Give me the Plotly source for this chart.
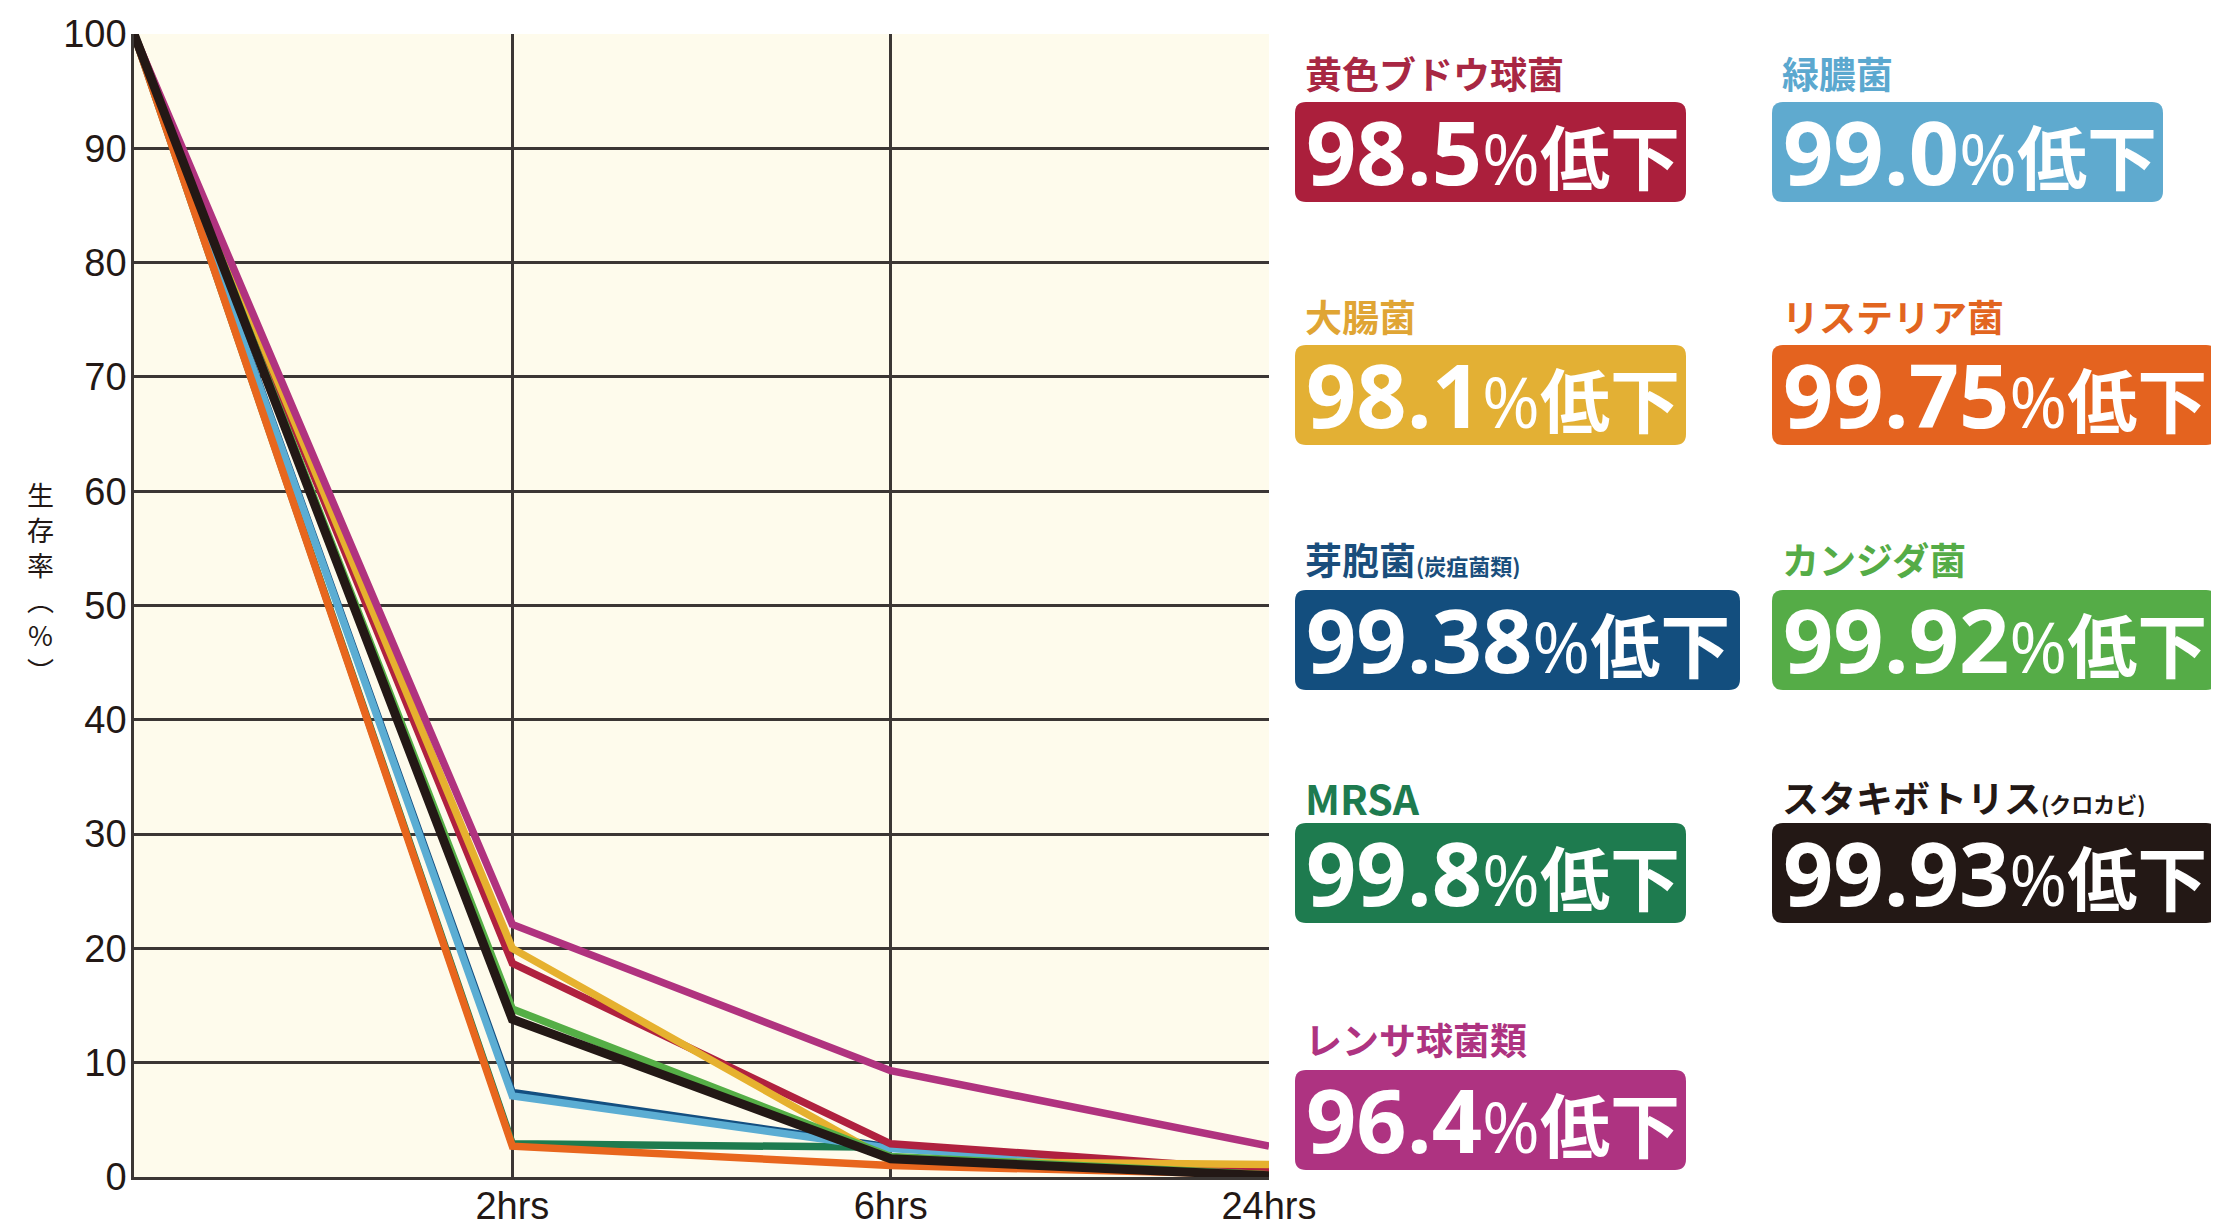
import plotly.graph_objects as go

# ---------------- data ----------------
x_labels = ["", "2hrs", "6hrs", "24hrs"]
y_ticks = [0, 10, 20, 30, 40, 50, 60, 70, 80, 90, 100]
y_title = "生存率（%）"

series_names = ["黄色ブドウ球菌", "緑膿菌", "大腸菌", "リステリア菌", "芽胞菌",
                "カンジダ菌", "MRSA", "スタキボトリス", "レンサ球菌類"]
series_notes = ["", "", "", "", "(炭疽菌類)", "", "", "(クロカビ)", ""]
reductions = ["98.5", "99.0", "98.1", "99.75", "99.38", "99.92", "99.8", "99.93", "96.4"]

staph = [100, 18.7, 2.9, 0.6]
pseudomonas = [100, 7.1, 2.5, 0.5]
ecoli = [100, 20.0, 1.4, 1.1]
listeria = [100, 2.7, 1.0, 0.2]
bacillus = [100, 7.4, 2.6, 0.4]
candida = [100, 14.7, 1.8, 0.2]
mrsa = [100, 2.9, 2.6, 0.1]
stachybotrys = [100, 13.8, 1.6, 0.1]
strepto = [100, 22.1, 9.3, 2.7]

series_values = [staph, pseudomonas, ecoli, listeria, bacillus,
                 candida, mrsa, stachybotrys, strepto]

# ---------------- style ----------------
line_colors = ["#B0213F", "#5BADD3", "#E6B12F", "#E8661D", "#144F80",
               "#55AE46", "#1E7B4F", "#231815", "#B0337F"]
title_colors = ["#A82743", "#5BA8CF", "#E0A534", "#E2651F", "#1A4E7C",
                "#55AC47", "#1E7B4F", "#231815", "#AE3381"]
box_colors = ["#AB1F3C", "#5FAACF", "#E3B034", "#E4631F", "#134E7E",
              "#55AC47", "#1E7B4F", "#231815", "#AE3381"]
line_widths = [7.5, 7.5, 7.5, 7.5, 7.5, 7.5, 7.5, 9, 7.5]
draw_order = [6, 4, 1, 0, 2, 5, 3, 8, 7]

# page geometry (browser body has an 8px default margin)
OFF = 8
PAGE_W, PAGE_H = 2219, 1225
W, H = PAGE_W - OFF, PAGE_H - OFF
L, R, T, B = 134, 1269, 34, 1177          # plot area in page pixels
PW, PH = R - L, B - T
GRID = "#3B3634"
TXT = "#231815"


def px_x(px):
    return (px - L) / PW


def px_y(py):
    return (B - py) / PH


x_pos = list(range(len(x_labels)))

fig = go.Figure()
for i in draw_order:
    fig.add_trace(go.Scatter(
        x=x_pos, y=series_values[i], mode="lines", name=series_names[i],
        line=dict(color=line_colors[i], width=line_widths[i]),
        showlegend=False, hoverinfo="skip"))

# ---------------- labels on the right ----------------
col_left = [1295, 1772]
title_cy = [73, 316, 559, 797, 1039]
box_top = [102, 345, 590, 823, 1070]
box_h = 100
radius = 11
shapes = []
annotations = []

for i, name in enumerate(series_names):
    col, row = i % 2, i // 2
    x0 = col_left[col]
    ndig = len(reductions[i].replace(".", ""))
    bw = 391 if ndig <= 3 else 445
    x1 = x0 + bw
    y0 = box_top[row]
    y1 = y0 + box_h
    rx, ry = radius / PW, radius / PH
    X0, X1 = px_x(x0), px_x(x1)
    Y0, Y1 = px_y(y0), px_y(y1)  # Y0 top, Y1 bottom
    path = (f"M{X0+rx},{Y0} L{X1-rx},{Y0} Q{X1},{Y0} {X1},{Y0-ry} "
            f"L{X1},{Y1+ry} Q{X1},{Y1} {X1-rx},{Y1} L{X0+rx},{Y1} "
            f"Q{X0},{Y1} {X0},{Y1+ry} L{X0},{Y0-ry} Q{X0},{Y0} {X0+rx},{Y0} Z")
    shapes.append(dict(type="path", xref="paper", yref="paper", path=path,
                       fillcolor=box_colors[i], line=dict(width=0), layer="above"))
    note = ""
    if series_notes[i]:
        note = f"<span style='font-size:22px'>{series_notes[i]}</span>"
    tsize = 41 if name.isascii() else 37
    annotations.append(dict(
        xref="paper", yref="paper", x=px_x(x0 + 8), y=px_y(title_cy[row]),
        xanchor="left", yanchor="middle", showarrow=False, height=40,
        text=f"<b>{name}{note}</b>",
        font=dict(family="Noto Sans CJK JP", size=tsize, color=title_colors[i])))
    annotations.append(dict(
        xref="paper", yref="paper", x=px_x(x0 + 9), y=px_y(y0 + box_h / 2 - 1),
        xanchor="left", yanchor="middle", showarrow=False, height=box_h - 8,
        text=(f"<b>{reductions[i]}</b><span style='font-size:70px'>%</span>"
              f"<span style='font-size:70px'><b>低下</b></span>"),
        font=dict(family="Open Sans, Noto Sans CJK JP", size=88, color="white")))

# ---------------- vertical y-axis title ----------------
vert_map = {"（": "︵", "）": "︶"}
vertical_title = "<br>".join(vert_map.get(c, c) for c in y_title)
annotations.append(dict(
    xref="paper", yref="paper", x=px_x(40), y=px_y(582),
    xanchor="center", yanchor="middle", showarrow=False, text=vertical_title,
    font=dict(family="Noto Sans CJK JP", size=27, color=TXT)))

fig.update_layout(
    width=W, height=H,
    margin=dict(l=L - OFF, r=W - (R - OFF), t=T - OFF, b=H - (B - OFF), pad=0,
                autoexpand=False),
    paper_bgcolor="white", plot_bgcolor="#FEFBEC",
    shapes=shapes, annotations=annotations,
    xaxis=dict(range=[0, len(x_labels) - 1], tickvals=x_pos[1:], ticktext=x_labels[1:],
               showgrid=False, zeroline=False, showline=True, linecolor=GRID,
               linewidth=2.5, ticks="", ticklabelstandoff=-6, automargin=False,
               tickfont=dict(family="Liberation Sans", size=38, color=TXT)),
    xaxis2=dict(range=[0, len(x_labels) - 1], overlaying="x", tickvals=x_pos[1:-1],
                showgrid=True, gridcolor=GRID, gridwidth=2.5, showticklabels=False,
                zeroline=False, showline=False, ticks="", automargin=False),
    yaxis=dict(range=[0, 100], tickvals=y_ticks, ticktext=[str(v) for v in y_ticks],
               showgrid=True, gridcolor=GRID, gridwidth=2.5, zeroline=False,
               showline=True, linecolor=GRID, linewidth=2.5, ticks="",
               ticklabelstandoff=-3, automargin=False,
               tickfont=dict(family="Liberation Sans", size=38, color=TXT)),
)
# invisible trace to activate xaxis2 grid
fig.add_trace(go.Scatter(x=[0], y=[None], xaxis="x2", showlegend=False,
                         hoverinfo="skip", mode="lines"))

fig.write_html("out.html")
